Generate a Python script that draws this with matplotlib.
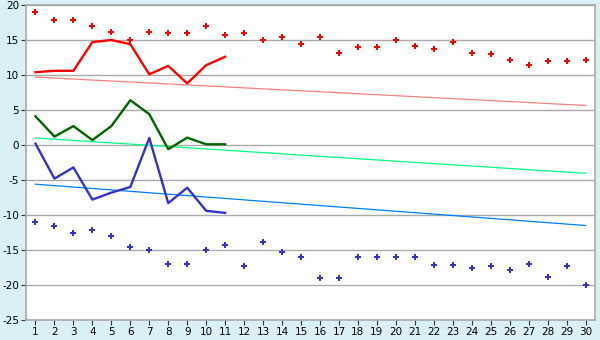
import numpy as np
import matplotlib.pyplot as plt

plt.rcParams['axes.unicode_minus'] = False

# 日付（1〜30）
days = np.arange(1, 31)
days_line = np.arange(1, 12)

# 上側の点（赤）
red_points = [19, 17.8, 17.8, 17, 16.1, 15, 16.1, 16, 16, 17,
              15.7, 16, 15, 15.4, 14.5, 15.4, 13.1, 14, 14, 15,
              14.1, 13.7, 14.7, 13.1, 13, 12.1, 11.4, 12, 12, 12.2]
# 下側の点（青）
blue_points = [-11, -11.5, -12.6, -12.2, -13.05, -14.6, -15.05, -17.05, -17, -15,
               -14.3, -17.3, -13.9, -15.3, -16, -19, -19, -16, -16, -16,
               -16, -17.2, -17.2, -17.6, -17.3, -17.9, -17.05, -18.9, -17.3, -20]

# 折れ線（1〜11日）
red_line = [10.4, 10.6, 10.6, 14.7, 15, 14.4, 10.1, 11.3, 8.8, 11.4, 12.6]
green_line = [4.1, 1.2, 2.7, 0.7, 2.7, 6.4, 4.4, -0.6, 1.05, 0.1, 0.1]
blue_line = [0.2, -4.8, -3.2, -7.8, -6.8, -6.0, 1.0, -8.3, -6.1, -9.4, -9.7]

# 傾向線（始点と終点）
trend_x = [1, 30]
red_trend = [9.7, 5.65]
green_trend = [1.0, -4.05]
blue_trend = [-5.6, -11.5]

yticks = np.arange(-25, 21, 5)

fig = plt.figure(figsize=(6, 3.4), dpi=100, facecolor='#daf0f6')
ax = fig.add_axes([26/600, 20/340, 569/600, 315/340])
ax.set_facecolor('white')

ax.plot(trend_x, red_trend, color='#ff8080', lw=0.9)
ax.plot(trend_x, green_trend, color='#00ff80', lw=0.9)
ax.plot(trend_x, blue_trend, color='#0080ff', lw=0.9)

ax.plot(days_line, red_line, color='#ff0000', lw=1.7)
ax.plot(days_line, green_line, color='#006400', lw=1.7)
ax.plot(days_line, blue_line, color='#3333cc', lw=1.7)

ax.plot(days, red_points, 'P', color='#ff0000', ms=5, mew=0, ls='none')
ax.plot(days, blue_points, 'P', color='#3333cc', ms=5, mew=0, ls='none')

ax.set_xlim(0.5, 30.5)
ax.set_ylim(-25, 20)
ax.set_xticks(days)
ax.set_yticks(yticks)
ax.yaxis.grid(True, color='#aaaaaa', lw=1)
ax.set_axisbelow(True)
for s in ax.spines.values():
    s.set_color('#aaaaaa')
    s.set_linewidth(1.2)
ax.tick_params(axis='both', labelsize=7.5, color='#333333', length=3.5, pad=1.5)

fig.savefig('out.png', dpi=100, facecolor=fig.get_facecolor())
